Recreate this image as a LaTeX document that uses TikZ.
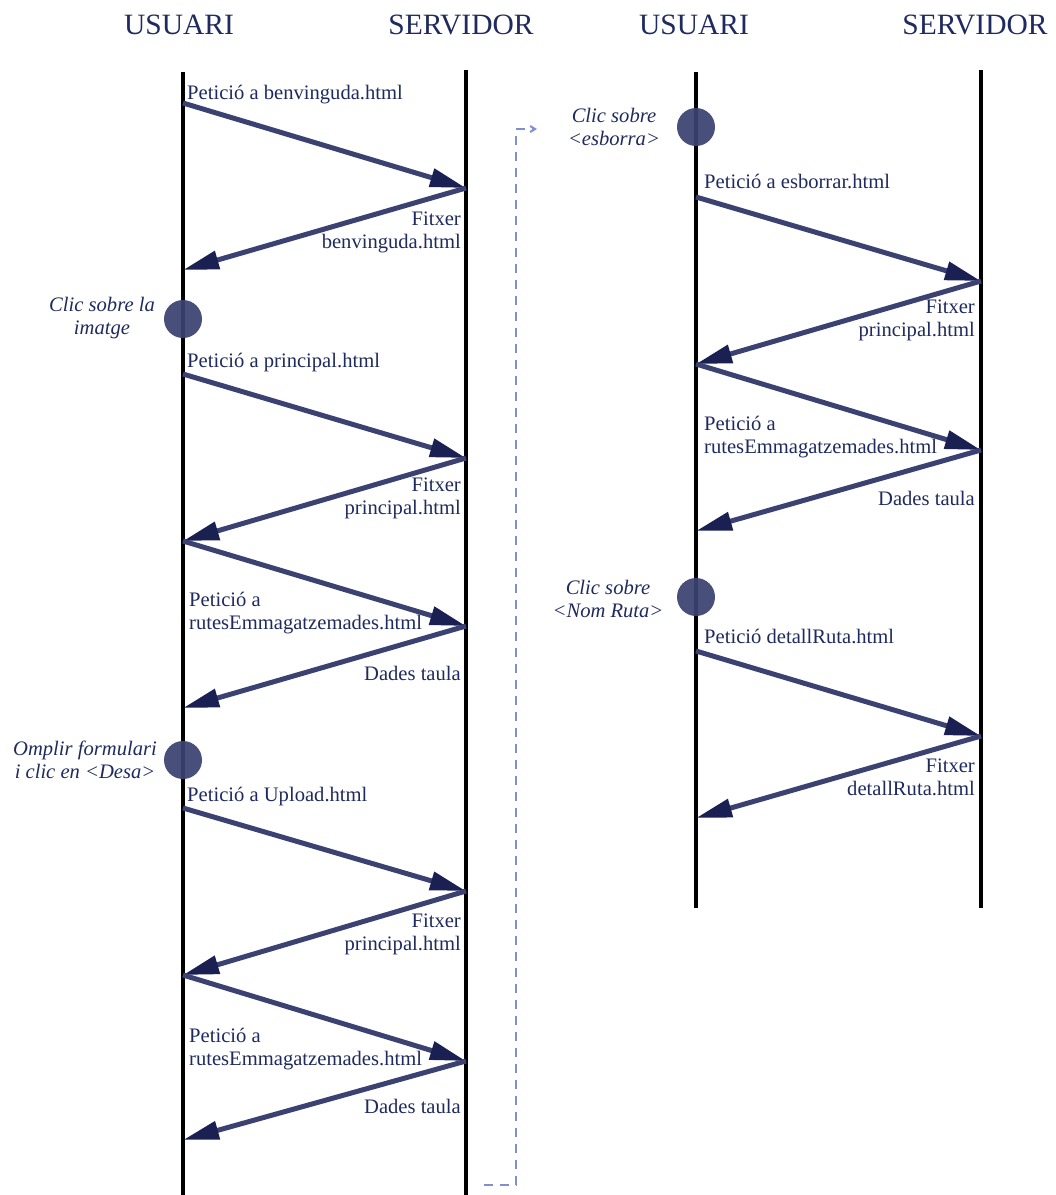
\documentclass[tikz,border=0pt]{standalone}
\usepackage{fontspec}
\setmainfont{Liberation Serif}
\usepackage{tikz}
\usetikzlibrary{arrows.meta,positioning,calc}
\definecolor{ink}{HTML}{1F2A5E}
\definecolor{msgc}{HTML}{3B4272}
\definecolor{tipc}{HTML}{1A2152}
\definecolor{evtc}{HTML}{3A4270}
\definecolor{jumpc}{HTML}{7F8FD0}
\tikzset{
  head/.style={font=\fontsize{29.5}{34}\selectfont,text=ink,anchor=base,inner sep=0pt},
  life/.style={draw=black,line width=4pt},
  msg/.style={draw=msgc,line width=5pt,-{Triangle[length=36pt,width=18pt,color=tipc]}},
  req/.style={font=\fontsize{20.6}{23}\selectfont,text=ink,anchor=west,align=left,inner sep=0pt},
  rep/.style={req,anchor=east,align=right},
  act/.style={req,anchor=center,align=center,font=\fontsize{20.6}{23}\selectfont\itshape},
  evt/.style={circle,fill=evtc,fill opacity=0.93,minimum size=38pt,inner sep=0pt},
  jump/.style={draw=jumpc,line width=2pt,dash pattern=on 9pt off 7pt,
    -{Straight Barb[length=5pt,width=6pt]}},
}
\begin{document}
\begin{tikzpicture}[x=1pt,y=-1pt]
  \useasboundingbox (0,0) rectangle (1056,1195);
  % headers
  \node[head] (hu1) at (179,34) {USUARI};
  \node[head] (hs1) at (461,34) {SERVIDOR};
  \node[head] (hu2) at (694,34) {USUARI};
  \node[head] (hs2) at (975,34) {SERVIDOR};
  % lifelines
  \coordinate (lut) at (183,72);  \coordinate (lub) at (183,1195);
  \coordinate (lst) at (466,70);  \coordinate (lsb) at (466,1195);
  \coordinate (rut) at (696,72);  \coordinate (rub) at (696,908);
  \coordinate (rst) at (981,70);  \coordinate (rsb) at (981,908);
  \foreach \t/\b in {lut/lub,lst/lsb,rut/rub,rst/rsb}
    \draw[life] (\t) -- (\b);
  % message end points on the lifelines
  \foreach \y [count=\i] in {103,270,374,541,708,808,975,1140}
    \coordinate (lu\i) at (183,\y);
  \foreach \y [count=\i] in {188,458,626,891,1061}
    \coordinate (ls\i) at (466,\y);
  \foreach \y [count=\i] in {197,364,531,651,818}
    \coordinate (ru\i) at (696,\y);
  \foreach \y [count=\i] in {281,450,736}
    \coordinate (rs\i) at (981,\y);
  % user events
  \node[evt] (e1) at (183,319) {};
  \node[evt] (e2) at (183,760) {};
  \node[evt] (e3) at (696,127) {};
  \node[evt] (e4) at (696,597) {};
  \node[act] (a1) at (102,318) {Clic sobre la\\imatge};
  \node[act] (a2) at (85,760) {Omplir formulari\\i clic en <Desa>};
  \node[act] (a3) at (614,127) {Clic sobre\\<esborra>};
  \node[act] (a4) at (608,599) {Clic sobre\\<Nom Ruta>};
  % messages
  \foreach \a/\b in {lu1/ls1,ls1/lu2,lu3/ls2,ls2/lu4,lu4/ls3,ls3/lu5,
                     lu6/ls4,ls4/lu7,lu7/ls5,ls5/lu8,
                     ru1/rs1,rs1/ru2,ru2/rs2,rs2/ru3,ru4/rs3,rs3/ru5}
    \draw[msg] (\a) -- (\b);
  % left column labels
  \node[req] (q1) at (187,95) {Petició a benvinguda.html};
  \node[rep] (p1) at (461,232) {Fitxer\\benvinguda.html};
  \node[req] (q2) at (187,363) {Petició a principal.html};
  \node[rep] (p2) at (461,498) {Fitxer\\principal.html};
  \node[req] (q3) at (189,613) {Petició a\\rutesEmmagatzemades.html};
  \node[rep] (p3) at (461,673) {Dades taula};
  \node[req] (q4) at (187,797) {Petició a Upload.html};
  \node[rep] (p4) at (461,934) {Fitxer\\principal.html};
  \node[req] (q5) at (189,1049) {Petició a\\rutesEmmagatzemades.html};
  \node[rep] (p5) at (461,1106) {Dades taula};
  % right column labels
  \node[req] (q6) at (704,181) {Petició a esborrar.html};
  \node[rep] (p6) at (975,320) {Fitxer\\principal.html};
  \node[req] (q7) at (704,437) {Petició a\\rutesEmmagatzemades.html};
  \node[rep] (p7) at (975,498) {Dades taula};
  \node[req] (q8) at (704,636) {Petició detallRuta.html};
  \node[rep] (p8) at (975,777) {Fitxer\\detallRuta.html};
  % continuation
  \coordinate (jfrom) at (484,1185);
  \coordinate (jto) at (537,129);
  \draw[jump] (jfrom) -- ++(32,0) |- (jto);
\end{tikzpicture}
\end{document}
